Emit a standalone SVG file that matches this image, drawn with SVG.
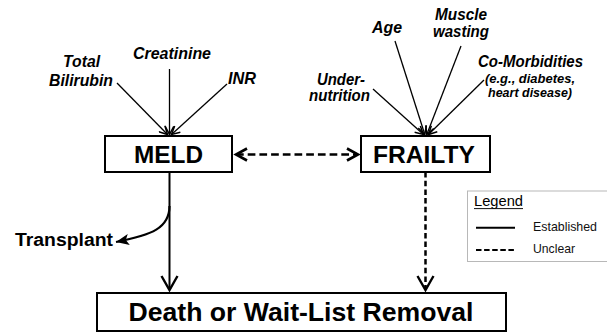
<svg xmlns="http://www.w3.org/2000/svg" width="607" height="332" viewBox="0 0 607 332">
<style>
text{font-family:"Liberation Sans",Arial,sans-serif;fill:#000}
.lbl{font-size:15.7px;font-weight:bold;font-style:italic;text-anchor:middle}
.sm{font-size:12.8px;font-weight:bold;font-style:italic;text-anchor:middle}
.node{fill:#fff;stroke:#000;stroke-width:2}
.big{font-size:24.3px;font-weight:bold;text-anchor:middle}
.in{stroke:#000;stroke-width:1.3;fill:none;marker-end:url(#aSmall)}
.leg{font-size:12.4px;fill:#111}
</style>
<defs>
<marker id="aSmall" markerUnits="userSpaceOnUse" markerWidth="10" markerHeight="10" viewBox="0 0 8 8" refX="7" refY="4" orient="auto">
<path d="M0.5,0.6 L7,4 L0.5,7.4" fill="none" stroke="#000" stroke-width="1.2"/>
</marker>
<marker id="aOpen" markerUnits="userSpaceOnUse" markerWidth="18" markerHeight="20" viewBox="0 0 18 20" refX="15" refY="10" orient="auto">
<path d="M1,2 L15,10 L1,18" fill="none" stroke="#000" stroke-width="2.4" stroke-dasharray="none"/>
</marker>
<marker id="aOpenS" markerUnits="userSpaceOnUse" markerWidth="15" markerHeight="16" viewBox="0 0 15 16" refX="12" refY="8" orient="auto-start-reverse">
<path d="M1,2 L12,8 L1,14" fill="none" stroke="#000" stroke-width="2.6" stroke-dasharray="none"/>
</marker>
<marker id="aFill" markerUnits="userSpaceOnUse" markerWidth="14" markerHeight="12" viewBox="0 0 14 12" refX="13" refY="6" orient="auto">
<path d="M0,0.5 L13,6 L0,11.5 L3,6 Z" fill="#000"/>
</marker>
</defs>

<g id="inputs-meld">
<text class="lbl" x="81.5" y="67" textLength="37" lengthAdjust="spacingAndGlyphs">Total</text>
<text class="lbl" x="81" y="86" textLength="64" lengthAdjust="spacingAndGlyphs">Bilirubin</text>
<text class="lbl" x="172" y="59" textLength="78" lengthAdjust="spacingAndGlyphs">Creatinine</text>
<text class="lbl" x="242" y="84" textLength="28" lengthAdjust="spacingAndGlyphs">INR</text>
</g>

<g id="inputs-frailty">
<text class="lbl" x="387" y="33" textLength="30" lengthAdjust="spacingAndGlyphs">Age</text>
<text class="lbl" x="461" y="20" textLength="52" lengthAdjust="spacingAndGlyphs">Muscle</text>
<text class="lbl" x="461" y="37" textLength="56" lengthAdjust="spacingAndGlyphs">wasting</text>
<text class="lbl" x="341" y="84.5" textLength="48" lengthAdjust="spacingAndGlyphs">Under-</text>
<text class="lbl" x="339.5" y="101" textLength="61" lengthAdjust="spacingAndGlyphs">nutrition</text>
<text class="lbl" x="530.5" y="67" textLength="105" lengthAdjust="spacingAndGlyphs">Co-Morbidities</text>
<text class="sm" x="530" y="83" textLength="90" lengthAdjust="spacingAndGlyphs">(e.g., diabetes,</text>
<text class="sm" x="530" y="96.5" textLength="84" lengthAdjust="spacingAndGlyphs">heart disease)</text>
</g>

<g id="connectors">
<line class="in" x1="117" y1="83" x2="167.5" y2="134.5"/>
<line class="in" x1="169.5" y1="69" x2="169.5" y2="134.5"/>
<line class="in" x1="227" y1="84" x2="171.5" y2="134.5"/>
<line class="in" x1="373" y1="89" x2="423.5" y2="134.5"/>
<line class="in" x1="395" y1="41" x2="424.8" y2="134.5"/>
<line class="in" x1="461" y1="46" x2="426.8" y2="134.5"/>
<line class="in" x1="484" y1="80" x2="428.5" y2="134.5"/>
<line x1="236" y1="154.5" x2="358" y2="154.5" stroke="#000" stroke-width="2.5" stroke-dasharray="7.7 4" marker-start="url(#aOpenS)" marker-end="url(#aOpenS)"/>
<line x1="169.5" y1="172" x2="169.5" y2="290" stroke="#000" stroke-width="2" marker-end="url(#aOpen)"/>
<line x1="425.5" y1="172" x2="425.5" y2="290" stroke="#000" stroke-width="2.5" stroke-dasharray="5.5 3.2" marker-end="url(#aOpen)"/>
<path d="M169.5,206 C169.5,228 152,235 116,242" fill="none" stroke="#000" stroke-width="2.2" marker-end="url(#aFill)"/>
</g>

<g id="meld">
<rect class="node" x="105" y="136" width="127" height="36"/>
<text class="big" x="168.5" y="163" textLength="69" lengthAdjust="spacingAndGlyphs">MELD</text>
</g>

<g id="frailty">
<rect class="node" x="361" y="136" width="129" height="36"/>
<text class="big" x="424" y="163" textLength="102" lengthAdjust="spacingAndGlyphs">FRAILTY</text>
</g>

<g id="transplant">
<text x="15" y="246" font-size="19.2" font-weight="bold" textLength="98" lengthAdjust="spacingAndGlyphs">Transplant</text>
</g>

<g id="outcome">
<rect class="node" x="97" y="293" width="409" height="38"/>
<text x="301" y="321" font-size="26.5" font-weight="bold" text-anchor="middle" textLength="345" lengthAdjust="spacingAndGlyphs">Death or Wait-List Removal</text>
</g>

<g id="legend">
<rect x="467.5" y="191" width="140" height="70.5" fill="#fff" stroke="#b8b8b8" stroke-width="1"/>
<text x="474" y="205.7" font-size="14.2" fill="#111" textLength="49" lengthAdjust="spacingAndGlyphs">Legend</text>
<line x1="474" y1="208.6" x2="523" y2="208.6" stroke="#111" stroke-width="1"/>
<line x1="476" y1="227.7" x2="515" y2="227.7" stroke="#000" stroke-width="2"/>
<line x1="476" y1="250" x2="516" y2="250" stroke="#000" stroke-width="2" stroke-dasharray="5.5 2.6"/>
<text class="leg" x="533" y="230.7" textLength="64" lengthAdjust="spacingAndGlyphs">Established</text>
<text class="leg" x="533" y="252.7" textLength="42" lengthAdjust="spacingAndGlyphs">Unclear</text>
</g>
</svg>
